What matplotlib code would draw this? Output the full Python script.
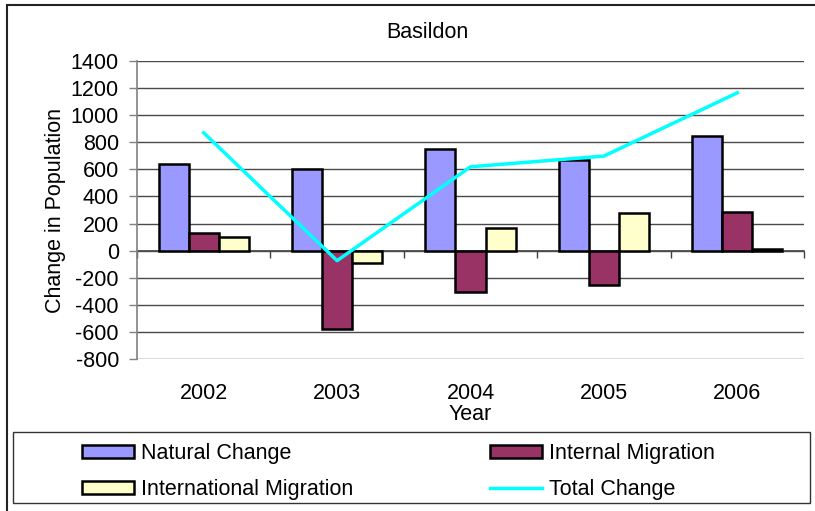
#!/usr/bin/env python3

"""Basildon population change chart."""

import matplotlib.pyplot as plt
from matplotlib.patches import Rectangle
import numpy as np

plt.rcParams["font.family"] = ["Liberation Sans", "DejaVu Sans"]
plt.rcParams["font.size"] = 15.5

years = ["2002", "2003", "2004", "2005", "2006"]
natural = [637, 602, 750, 668, 848]
internal = [128, -580, -302, -255, 288]
international = [99, -88, 170, 280, 12]
total = [870, -74, 619, 698, 1165]

yticks = list(range(-800, 1401, 200))

fig = plt.figure(figsize=(8.15, 5.11), dpi=100)
ax = fig.add_axes([137 / 815, 1 - 359 / 511, 667 / 815, 298 / 511])

x = np.arange(len(years))
w = 0.225
edge = dict(edgecolor="black", linewidth=1.8, zorder=3)
b1 = ax.bar(x - w, natural, w, color="#9999FF", label="Natural Change", **edge)
b2 = ax.bar(x, internal, w, color="#993366", label="Internal Migration", **edge)
b3 = ax.bar(x + w, international, w, color="#FFFFCC",
            label="International Migration", **edge)
(l1,) = ax.plot(x, total, color="#00FFFF", linewidth=2.5, zorder=4,
                label="Total Change")

ax.set_xlim(-0.5, len(years) - 0.5)
ax.set_ylim(-800, 1400)
ax.set_yticks(yticks)
ax.set_yticklabels([str(v) for v in yticks])
ax.yaxis.grid(True, color="#4a4a4a", linewidth=1)
ax.set_axisbelow(True)
ax.tick_params(axis="y", length=6, width=1, color="#808080", pad=7)

for s in ["top", "right", "bottom"]:
    ax.spines[s].set_visible(False)
ax.spines["left"].set_color("#808080")
ax.spines["left"].set_linewidth(1.2)

# category labels at the bottom, axis line with boundary ticks at zero
ax.set_xticks(x)
ax.set_xticklabels(years)
ax.tick_params(axis="x", length=0, pad=17)
sec = ax.secondary_xaxis(0, transform=ax.transData)
sec.set_xticks(np.arange(len(years) + 1) - 0.5)
sec.set_xticklabels([])
sec.tick_params(length=5, width=1, color="#404040")
sec.spines["bottom"].set_color("#404040")
sec.spines["bottom"].set_linewidth(1.2)

ax.set_ylabel("Change in Population")
ax.yaxis.set_label_coords(-0.106, 0.5)

fig.text(427 / 815, 1 - 33 / 511, "Basildon", ha="center", va="center")
fig.text(470 / 815, 1 - 414 / 511, "Year", ha="center", va="center")

# outer frame and legend box
fig.patches.append(Rectangle((7 / 815, -0.02), 1.0, 1 - 5 / 511 + 0.02,
                             transform=fig.transFigure, fill=False,
                             edgecolor="#222222", linewidth=1.5))
fig.patches.append(Rectangle((13 / 815, 1 - 503 / 511), 797 / 815, 71 / 511,
                             transform=fig.transFigure, fill=False,
                             edgecolor="#333333", linewidth=1))

leg_kw = dict(frameon=False, handlelength=2.4, handleheight=0.56,
              handletextpad=0.33, labelspacing=0.69, borderpad=0,
              borderaxespad=0, loc="upper left", fontsize=15.5)
lg1 = fig.legend([b1, b3], ["Natural Change", "International Migration"],
                 bbox_to_anchor=(82 / 815, 1 - 443 / 511), **leg_kw)
lg2 = fig.legend([b2, l1], ["Internal Migration", "Total Change"],
                 bbox_to_anchor=(490 / 815, 1 - 443 / 511), **leg_kw)

plt.savefig("out.png", dpi=100)
